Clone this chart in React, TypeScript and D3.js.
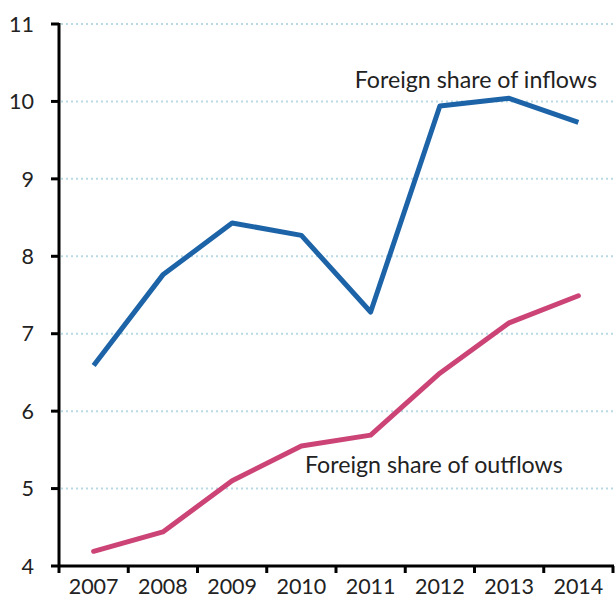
import React from "react";
import * as d3 from "d3";

const years = ["2007", "2008", "2009", "2010", "2011", "2012", "2013", "2014"];
const inflows = [6.59, 7.76, 8.43, 8.27, 7.28, 9.94, 10.04, 9.73];
const outflows = [4.19, 4.44, 5.1, 5.55, 5.69, 6.49, 7.14, 7.49];
const yTicks = [4, 5, 6, 7, 8, 9, 10, 11];
const inflowLabel = "Foreign share of inflows";
const outflowLabel = "Foreign share of outflows";

export default function App() {
  const W = 616, H = 608;
  const left = 59, right = 613, top = 24, bottom = 566;
  const x = d3.scaleBand<string>().domain(years).range([left, right]);
  const y = d3.scaleLinear().domain([4, 11]).range([bottom, top]);
  const line = d3
    .line<number>()
    .x((_, i) => (x(years[i]) as number) + x.bandwidth() / 2)
    .y((d) => y(d));
  const font = "Lato, 'Open Sans', sans-serif";
  const tickX = [...years.map((yr) => x(yr) as number), right];
  return (
    <svg width={W} height={H} style={{ position: "absolute", left: 0, top: 0 }}>
      <rect width={W} height={H} fill="#fff" />
      {yTicks.slice(1).map((t) => (
        <line key={t} x1={left + 2} x2={right} y1={y(t)} y2={y(t)} stroke="#b9d9e5" strokeWidth={2} strokeDasharray="2,3" />
      ))}
      <path d={line(inflows) || ""} fill="none" stroke="#1c63a7" strokeWidth={5} strokeLinejoin="round" />
      <path d={line(outflows) || ""} fill="none" stroke="#cc4476" strokeWidth={5} strokeLinejoin="round" strokeLinecap="round" />
      <line x1={left} x2={left} y1={top - 1} y2={bottom + 1} stroke="#000" strokeWidth={3} />
      <line x1={left - 1} x2={right + 1} y1={bottom} y2={bottom} stroke="#000" strokeWidth={3} />
      {yTicks.map((t) => (
        <g key={t}>
          <line x1={left - 8} x2={left} y1={y(t)} y2={y(t)} stroke="#000" strokeWidth={3} />
          <text x={34} y={y(t)} dy="0.36em" textAnchor="end" fontFamily={font} fontSize={21.5} fill="#222">{t}</text>
        </g>
      ))}
      {tickX.map((tx, i) => (
        <line key={i} x1={tx} x2={tx} y1={bottom} y2={bottom + 7} stroke="#000" strokeWidth={3} />
      ))}
      {years.map((yr) => (
        <text key={yr} x={(x(yr) as number) + x.bandwidth() / 2} y={594} textAnchor="middle" fontFamily={font} fontSize={21.5} fill="#222">{yr}</text>
      ))}
      <text x={597} y={88} textAnchor="end" fontFamily={font} fontSize={23.2} fill="#222">{inflowLabel}</text>
      <text x={305} y={473} textAnchor="start" fontFamily={font} fontSize={23.2} fill="#222">{outflowLabel}</text>
    </svg>
  );
}
